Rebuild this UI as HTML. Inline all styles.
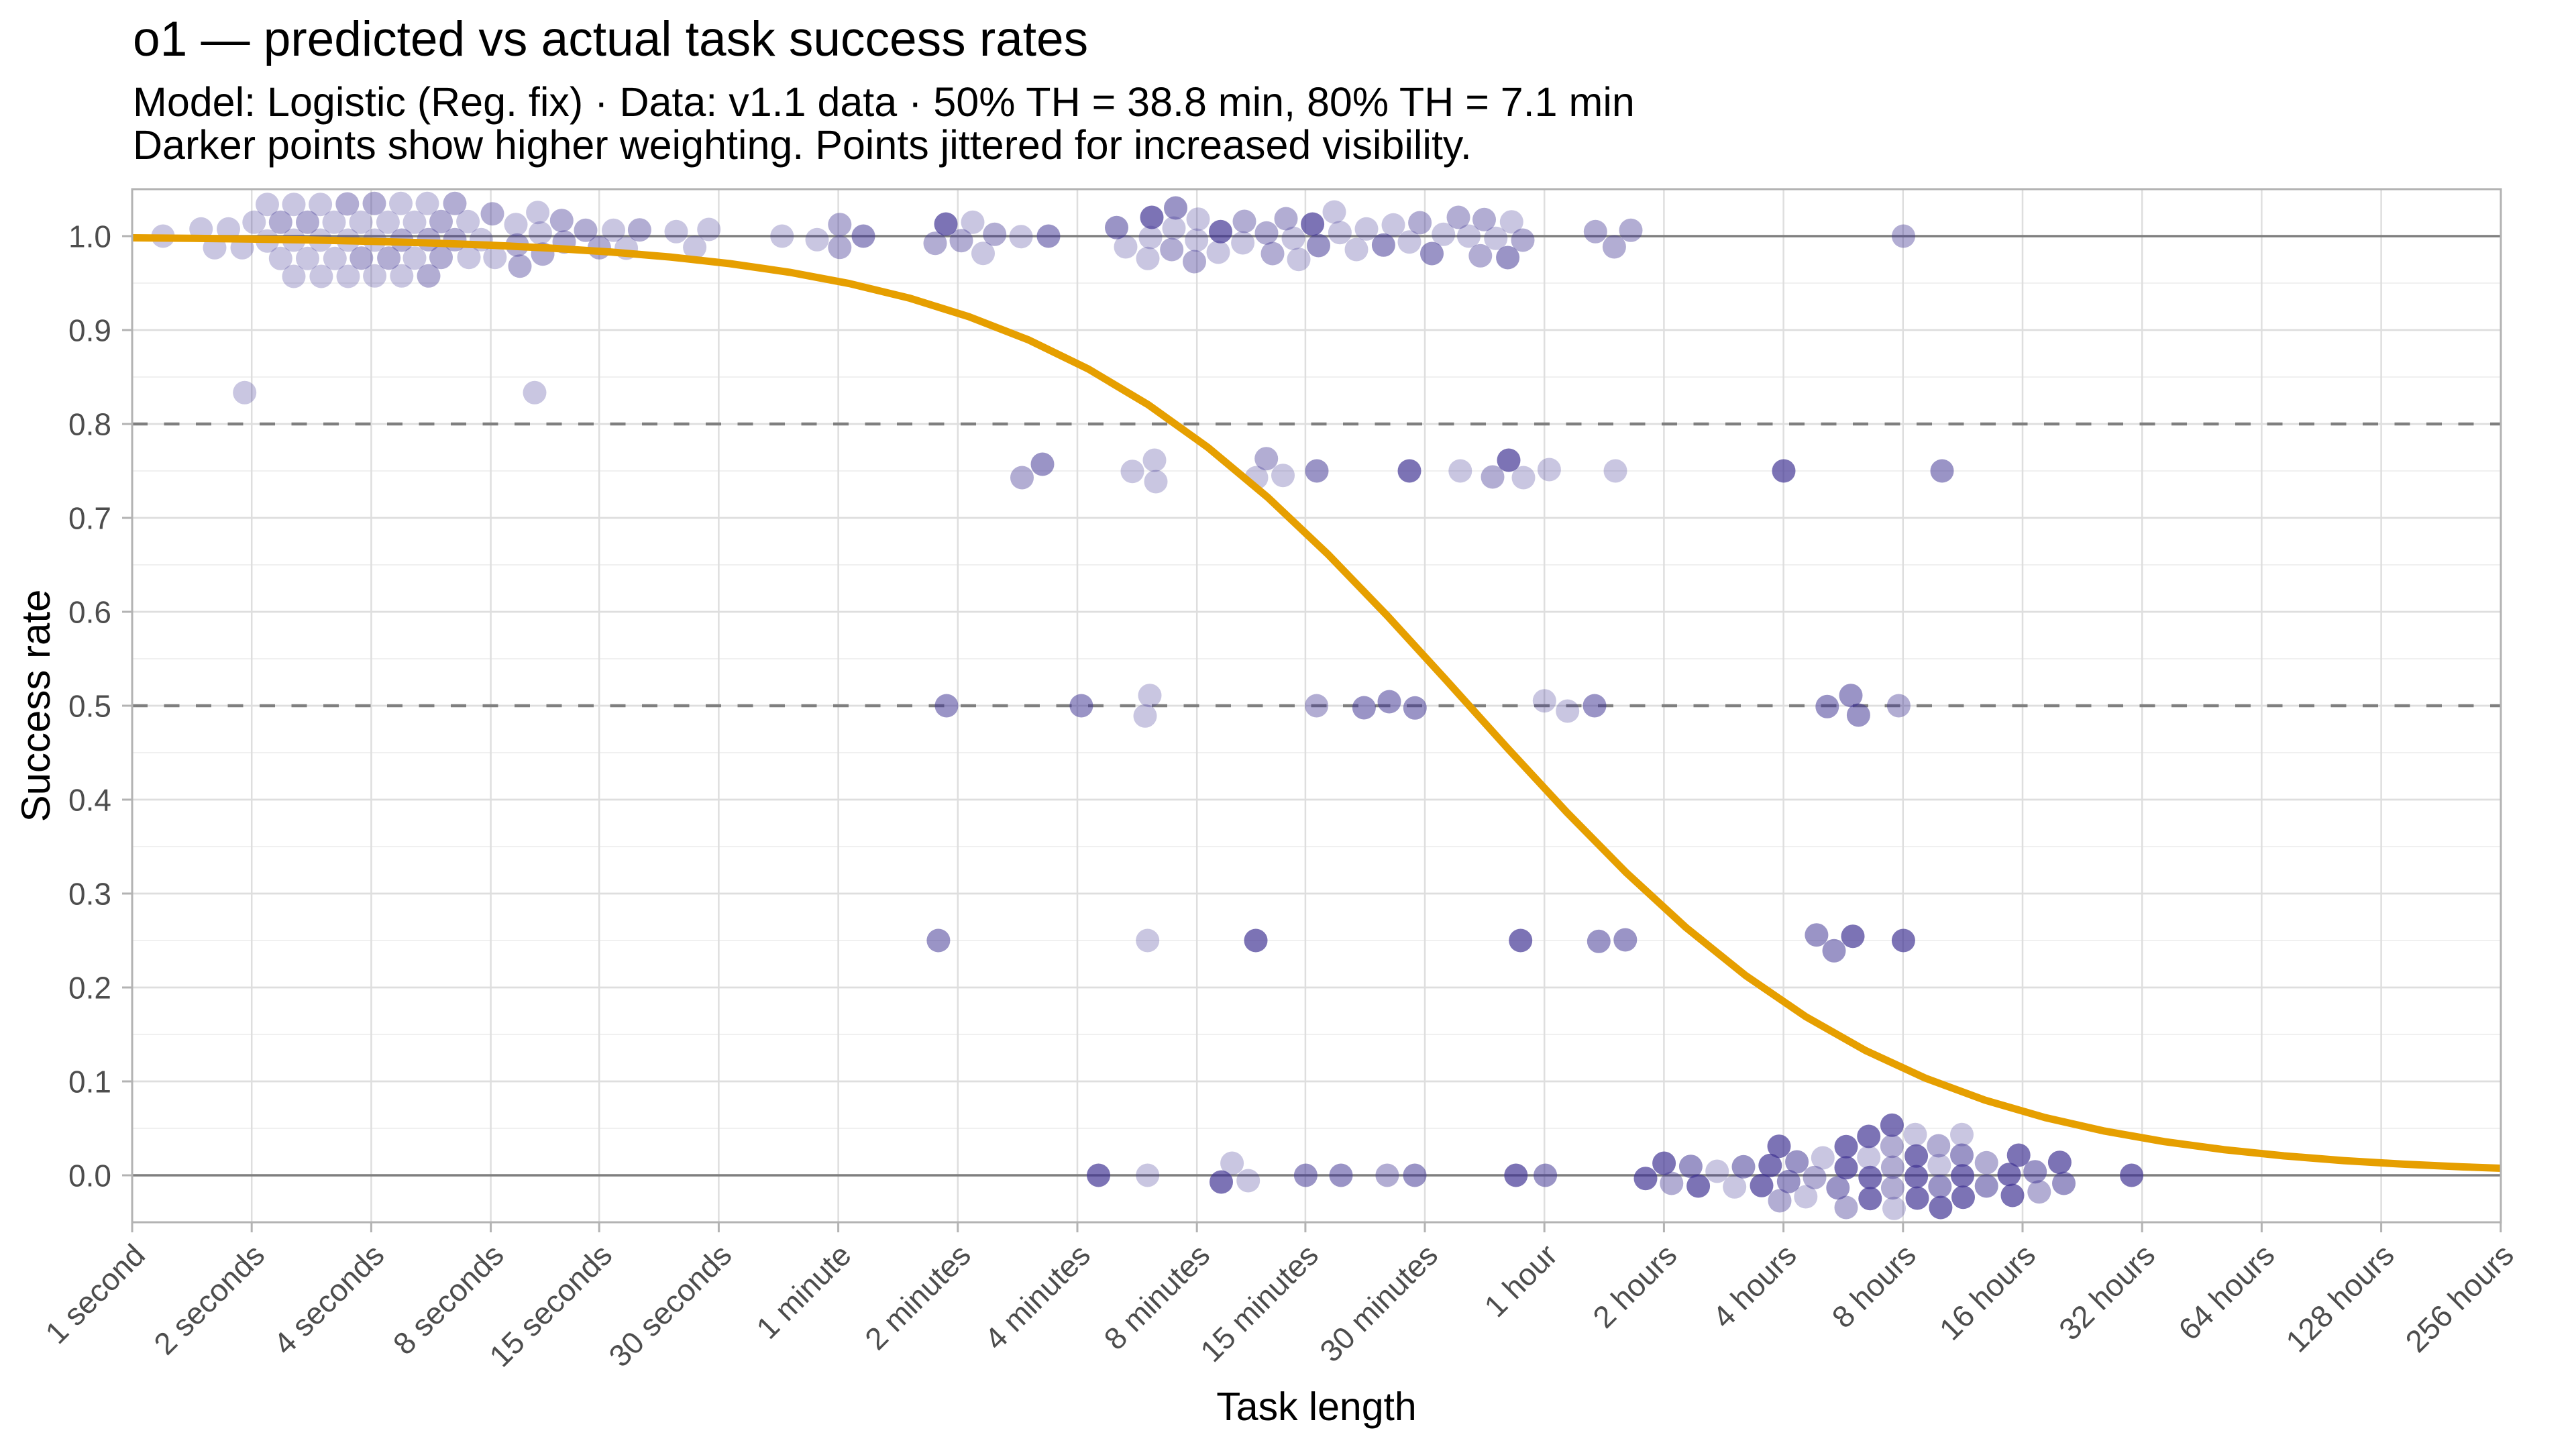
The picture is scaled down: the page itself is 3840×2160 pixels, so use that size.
<!DOCTYPE html>
<html>
<head>
<meta charset="utf-8">
<style>
  html, body { margin: 0; padding: 0; background: #ffffff; }
  body { width: 3840px; height: 2160px; overflow: hidden; }
  svg { display: block; }
  text { font-family: "Liberation Sans", Arial, sans-serif; }
  .tl { font-size: 46px; fill: #4D4D4D; }
  .a { fill: #3E3192; fill-opacity: 0.28; }
  .b { fill: #3E3192; fill-opacity: 0.40; }
  .c { fill: #3E3192; fill-opacity: 0.52; }
  .d { fill: #3E3192; fill-opacity: 0.68; }
</style>
</head>
<body>
<svg width="3840" height="2160" viewBox="0 0 3840 2160" xmlns="http://www.w3.org/2000/svg">
  <rect x="0" y="0" width="3840" height="2160" fill="#ffffff"/>

  <!-- Titles -->
  <text x="198" y="83" font-size="73" fill="#000">o1 — predicted vs actual task success rates</text>
  <text x="198" y="173" font-size="61" fill="#000">Model: Logistic (Reg. fix) · Data: v1.1 data · 50% TH = 38.8 min, 80% TH = 7.1 min</text>
  <text x="198" y="237" font-size="61" fill="#000">Darker points show higher weighting. Points jittered for increased visibility.</text>

  <!-- Minor horizontal gridlines -->
  <g stroke="#EBEBEB" stroke-width="1.4">
    <line x1="197" x2="3728" y1="1682" y2="1682"/>
    <line x1="197" x2="3728" y1="1542" y2="1542"/>
    <line x1="197" x2="3728" y1="1402" y2="1402"/>
    <line x1="197" x2="3728" y1="1262" y2="1262"/>
    <line x1="197" x2="3728" y1="1122" y2="1122"/>
    <line x1="197" x2="3728" y1="982" y2="982"/>
    <line x1="197" x2="3728" y1="842" y2="842"/>
    <line x1="197" x2="3728" y1="702" y2="702"/>
    <line x1="197" x2="3728" y1="562" y2="562"/>
    <line x1="197" x2="3728" y1="422" y2="422"/>
  </g>
  <!-- Major horizontal gridlines -->
  <g stroke="#DEDEDE" stroke-width="2.7">
    <line x1="197" x2="3728" y1="1752" y2="1752"/>
    <line x1="197" x2="3728" y1="1612" y2="1612"/>
    <line x1="197" x2="3728" y1="1472" y2="1472"/>
    <line x1="197" x2="3728" y1="1332" y2="1332"/>
    <line x1="197" x2="3728" y1="1192" y2="1192"/>
    <line x1="197" x2="3728" y1="1052" y2="1052"/>
    <line x1="197" x2="3728" y1="912" y2="912"/>
    <line x1="197" x2="3728" y1="772" y2="772"/>
    <line x1="197" x2="3728" y1="632" y2="632"/>
    <line x1="197" x2="3728" y1="492" y2="492"/>
    <line x1="197" x2="3728" y1="352" y2="352"/>
  </g>
  <!-- Vertical gridlines -->
  <g stroke="#DEDEDE" stroke-width="2.5">
    <line y1="282" y2="1822" x1="375.2" x2="375.2"/>
    <line y1="282" y2="1822" x1="553.4" x2="553.4"/>
    <line y1="282" y2="1822" x1="731.6" x2="731.6"/>
    <line y1="282" y2="1822" x1="893.2" x2="893.2"/>
    <line y1="282" y2="1822" x1="1071.4" x2="1071.4"/>
    <line y1="282" y2="1822" x1="1249.6" x2="1249.6"/>
    <line y1="282" y2="1822" x1="1427.8" x2="1427.8"/>
    <line y1="282" y2="1822" x1="1606" x2="1606"/>
    <line y1="282" y2="1822" x1="1784.2" x2="1784.2"/>
    <line y1="282" y2="1822" x1="1945.9" x2="1945.9"/>
    <line y1="282" y2="1822" x1="2124" x2="2124"/>
    <line y1="282" y2="1822" x1="2302.2" x2="2302.2"/>
    <line y1="282" y2="1822" x1="2480.4" x2="2480.4"/>
    <line y1="282" y2="1822" x1="2658.6" x2="2658.6"/>
    <line y1="282" y2="1822" x1="2836.8" x2="2836.8"/>
    <line y1="282" y2="1822" x1="3015" x2="3015"/>
    <line y1="282" y2="1822" x1="3193.2" x2="3193.2"/>
    <line y1="282" y2="1822" x1="3371.4" x2="3371.4"/>
    <line y1="282" y2="1822" x1="3549.6" x2="3549.6"/>
  </g>

  <!-- Reference lines -->
  <g stroke="#7F7F7F" stroke-width="3.5">
    <line x1="197" x2="3728" y1="352" y2="352"/>
    <line x1="197" x2="3728" y1="1752" y2="1752"/>
  </g>
  <g stroke="#7F7F7F" stroke-width="4.5" stroke-dasharray="23 24.5">
    <line x1="197" x2="3728" y1="632" y2="632"/>
    <line x1="197" x2="3728" y1="1052" y2="1052"/>
  </g>

  <!-- Points -->
  <g>
    <circle class="a" cx="243" cy="352" r="17.5"/>
    <circle class="a" cx="299.7" cy="341.3" r="17.5"/>
    <circle class="a" cx="320" cy="369.3" r="17.5"/>
    <circle class="a" cx="340.5" cy="341.3" r="17.5"/>
    <circle class="a" cx="361" cy="369.3" r="17.5"/>
    <circle class="a" cx="378.8" cy="331.3" r="17.5"/>
    <circle class="a" cx="398.5" cy="304.7" r="17.5"/>
    <circle class="a" cx="398.5" cy="359.3" r="17.5"/>
    <circle class="b" cx="418.3" cy="331.3" r="17.5"/>
    <circle class="a" cx="418.3" cy="385.3" r="17.5"/>
    <circle class="a" cx="438" cy="304.7" r="17.5"/>
    <circle class="a" cx="438" cy="358" r="17.5"/>
    <circle class="a" cx="438" cy="412" r="17.5"/>
    <circle class="b" cx="458.5" cy="331.3" r="17.5"/>
    <circle class="a" cx="458.5" cy="385.3" r="17.5"/>
    <circle class="a" cx="477.6" cy="304.7" r="17.5"/>
    <circle class="a" cx="477.6" cy="358" r="17.5"/>
    <circle class="a" cx="478.9" cy="412" r="17.5"/>
    <circle class="a" cx="498" cy="331.3" r="17.5"/>
    <circle class="a" cx="499.3" cy="385.3" r="17.5"/>
    <circle class="b" cx="517.8" cy="304" r="17.5"/>
    <circle class="a" cx="519" cy="358" r="17.5"/>
    <circle class="a" cx="519" cy="412" r="17.5"/>
    <circle class="a" cx="538" cy="331.3" r="17.5"/>
    <circle class="b" cx="538.8" cy="384.7" r="17.5"/>
    <circle class="b" cx="558" cy="303.3" r="17.5"/>
    <circle class="a" cx="558.6" cy="358" r="17.5"/>
    <circle class="a" cx="558.6" cy="411.3" r="17.5"/>
    <circle class="a" cx="578.4" cy="331.3" r="17.5"/>
    <circle class="b" cx="579.6" cy="384.7" r="17.5"/>
    <circle class="a" cx="597.5" cy="303.3" r="17.5"/>
    <circle class="b" cx="598.8" cy="358" r="17.5"/>
    <circle class="a" cx="598.8" cy="411.3" r="17.5"/>
    <circle class="a" cx="618" cy="331.3" r="17.5"/>
    <circle class="a" cx="618" cy="384.7" r="17.5"/>
    <circle class="a" cx="637" cy="303.3" r="17.5"/>
    <circle class="b" cx="639" cy="357.3" r="17.5"/>
    <circle class="b" cx="639" cy="411.3" r="17.5"/>
    <circle class="b" cx="657.5" cy="330.3" r="17.5"/>
    <circle class="b" cx="657.5" cy="383.7" r="17.5"/>
    <circle class="b" cx="678" cy="303.3" r="17.5"/>
    <circle class="b" cx="678" cy="357.3" r="17.5"/>
    <circle class="a" cx="697.6" cy="330.3" r="17.5"/>
    <circle class="a" cx="699" cy="383.7" r="17.5"/>
    <circle class="a" cx="717.4" cy="357.3" r="17.5"/>
    <circle class="b" cx="734" cy="318.7" r="17.5"/>
    <circle class="a" cx="737.8" cy="383.7" r="17.5"/>
    <circle class="a" cx="769" cy="334.7" r="17.5"/>
    <circle class="b" cx="771" cy="365.3" r="17.5"/>
    <circle class="b" cx="775" cy="396.7" r="17.5"/>
    <circle class="a" cx="801.6" cy="316.7" r="17.5"/>
    <circle class="a" cx="805.4" cy="347.3" r="17.5"/>
    <circle class="b" cx="809" cy="378.7" r="17.5"/>
    <circle class="b" cx="837.3" cy="328.7" r="17.5"/>
    <circle class="b" cx="841" cy="360.7" r="17.5"/>
    <circle class="b" cx="873" cy="343.3" r="17.5"/>
    <circle class="b" cx="893.4" cy="369.3" r="17.5"/>
    <circle class="a" cx="914.5" cy="343.3" r="17.5"/>
    <circle class="a" cx="933.6" cy="370" r="17.5"/>
    <circle class="b" cx="953.4" cy="342.7" r="17.5"/>
    <circle class="a" cx="1008" cy="345.3" r="17.5"/>
    <circle class="a" cx="1035.6" cy="368.7" r="17.5"/>
    <circle class="a" cx="1056.7" cy="342" r="17.5"/>
    <circle class="a" cx="1165.8" cy="352" r="17.5"/>
    <circle class="a" cx="364.7" cy="585.3" r="17.5"/>
    <circle class="a" cx="797" cy="585.3" r="17.5"/>

    <circle class="a" cx="1218" cy="357.3" r="17.5"/>
    <circle class="b" cx="1251.8" cy="334.7" r="17.5"/>
    <circle class="b" cx="1251.8" cy="368.7" r="17.5"/>
    <circle class="c" cx="1287" cy="352" r="17.5"/>
    <circle class="b" cx="1394" cy="362.7" r="17.5"/>
    <circle class="d" cx="1410" cy="334" r="17.5"/>
    <circle class="b" cx="1433" cy="358.7" r="17.5"/>
    <circle class="a" cx="1450" cy="331.3" r="17.5"/>
    <circle class="a" cx="1465.5" cy="377.7" r="17.5"/>
    <circle class="b" cx="1482.7" cy="349.3" r="17.5"/>
    <circle class="a" cx="1522" cy="352.7" r="17.5"/>
    <circle class="c" cx="1563" cy="352" r="17.5"/>
    <circle class="c" cx="1664.5" cy="339.3" r="17.5"/>
    <circle class="a" cx="1678" cy="368" r="17.5"/>
    <circle class="a" cx="1711" cy="385.3" r="17.5"/>
    <circle class="a" cx="1715" cy="354" r="17.5"/>
    <circle class="d" cx="1717" cy="324" r="17.5"/>
    <circle class="b" cx="1746.7" cy="372" r="17.5"/>
    <circle class="a" cx="1750" cy="340" r="17.5"/>
    <circle class="c" cx="1752.5" cy="310" r="17.5"/>
    <circle class="b" cx="1780.5" cy="390" r="17.5"/>
    <circle class="a" cx="1783.7" cy="358" r="17.5"/>
    <circle class="a" cx="1786" cy="326.7" r="17.5"/>
    <circle class="a" cx="1816" cy="376" r="17.5"/>
    <circle class="d" cx="1819.5" cy="345.3" r="17.5"/>
    <circle class="a" cx="1852.6" cy="362" r="17.5"/>
    <circle class="b" cx="1855" cy="330" r="17.5"/>
    <circle class="b" cx="1888" cy="347.3" r="17.5"/>
    <circle class="b" cx="1897" cy="378" r="17.5"/>
    <circle class="b" cx="1917" cy="326" r="17.5"/>
    <circle class="a" cx="1928" cy="355.3" r="17.5"/>
    <circle class="a" cx="1936" cy="386.7" r="17.5"/>
    <circle class="d" cx="1956.6" cy="334" r="17.5"/>
    <circle class="c" cx="1965.5" cy="366" r="17.5"/>
    <circle class="a" cx="1989" cy="316" r="17.5"/>
    <circle class="a" cx="1997.4" cy="346.7" r="17.5"/>
    <circle class="a" cx="2022" cy="372" r="17.5"/>
    <circle class="a" cx="2037" cy="341.3" r="17.5"/>
    <circle class="c" cx="2062.4" cy="365.3" r="17.5"/>
    <circle class="a" cx="2077" cy="335.3" r="17.5"/>
    <circle class="a" cx="2101" cy="360.7" r="17.5"/>
    <circle class="b" cx="2116.6" cy="332" r="17.5"/>
    <circle class="c" cx="2134.5" cy="378" r="17.5"/>
    <circle class="a" cx="2151.7" cy="349.3" r="17.5"/>
    <circle class="b" cx="2174" cy="324" r="17.5"/>
    <circle class="a" cx="2189.5" cy="352" r="17.5"/>
    <circle class="b" cx="2212.5" cy="327.3" r="17.5"/>
    <circle class="a" cx="2229.7" cy="355.3" r="17.5"/>
    <circle class="b" cx="2206.8" cy="381.3" r="17.5"/>
    <circle class="a" cx="2253.3" cy="330.7" r="17.5"/>
    <circle class="b" cx="2270" cy="358" r="17.5"/>
    <circle class="c" cx="2247.6" cy="384" r="17.5"/>
    <circle class="b" cx="2378.3" cy="345.3" r="17.5"/>
    <circle class="b" cx="2406.4" cy="368" r="17.5"/>
    <circle class="b" cx="2431" cy="343.3" r="17.5"/>
    <circle class="b" cx="2837.5" cy="352" r="17.5"/>

    <circle class="b" cx="1523.5" cy="712" r="17.5"/>
    <circle class="c" cx="1554" cy="692" r="17.5"/>
    <circle class="a" cx="1688" cy="702.7" r="17.5"/>
    <circle class="a" cx="1721" cy="686" r="17.5"/>
    <circle class="a" cx="1723" cy="718" r="17.5"/>
    <circle class="a" cx="1873" cy="712" r="17.5"/>
    <circle class="b" cx="1887.7" cy="683.7" r="17.5"/>
    <circle class="a" cx="1912.5" cy="708.7" r="17.5"/>
    <circle class="c" cx="1963" cy="702" r="17.5"/>
    <circle class="d" cx="2101" cy="702" r="17.5"/>
    <circle class="a" cx="2176.8" cy="702" r="17.5"/>
    <circle class="b" cx="2225" cy="711" r="17.5"/>
    <circle class="d" cx="2249" cy="686" r="17.5"/>
    <circle class="a" cx="2271" cy="712" r="17.5"/>
    <circle class="a" cx="2309.4" cy="700" r="17.5"/>
    <circle class="a" cx="2408" cy="702" r="17.5"/>
    <circle class="d" cx="2659" cy="702" r="17.5"/>
    <circle class="c" cx="2895" cy="702" r="17.5"/>

    <circle class="c" cx="1411" cy="1052" r="17.5"/>
    <circle class="c" cx="1611.9" cy="1052" r="17.5"/>
    <circle class="a" cx="1714" cy="1036.7" r="17.5"/>
    <circle class="a" cx="1707" cy="1067.3" r="17.5"/>
    <circle class="b" cx="1962.6" cy="1052" r="17.5"/>
    <circle class="c" cx="2033.4" cy="1055" r="17.5"/>
    <circle class="c" cx="2071" cy="1046" r="17.5"/>
    <circle class="c" cx="2109.3" cy="1055.3" r="17.5"/>
    <circle class="a" cx="2302.3" cy="1044.7" r="17.5"/>
    <circle class="a" cx="2336.7" cy="1060" r="17.5"/>
    <circle class="c" cx="2377" cy="1052" r="17.5"/>
    <circle class="c" cx="2723.8" cy="1053.3" r="17.5"/>
    <circle class="c" cx="2759" cy="1036.7" r="17.5"/>
    <circle class="c" cx="2770.4" cy="1066" r="17.5"/>
    <circle class="b" cx="2830.4" cy="1052" r="17.5"/>

    <circle class="c" cx="1398.9" cy="1402" r="17.5"/>
    <circle class="a" cx="1710.7" cy="1402" r="17.5"/>
    <circle class="d" cx="1872" cy="1402" r="17.5"/>
    <circle class="d" cx="2266.7" cy="1402" r="17.5"/>
    <circle class="c" cx="2383.3" cy="1403.3" r="17.5"/>
    <circle class="c" cx="2422.8" cy="1401" r="17.5"/>
    <circle class="c" cx="2707.9" cy="1393.7" r="17.5"/>
    <circle class="c" cx="2734" cy="1417.3" r="17.5"/>
    <circle class="d" cx="2762" cy="1395.7" r="17.5"/>
    <circle class="d" cx="2837.4" cy="1402" r="17.5"/>

    <circle class="d" cx="1637.5" cy="1752" r="17.5"/>
    <circle class="a" cx="1710.7" cy="1752" r="17.5"/>
    <circle class="a" cx="1836.6" cy="1734" r="17.5"/>
    <circle class="d" cx="1820.5" cy="1762" r="17.5"/>
    <circle class="a" cx="1860.7" cy="1760" r="17.5"/>
    <circle class="c" cx="1946.4" cy="1752" r="17.5"/>
    <circle class="c" cx="1999" cy="1752" r="17.5"/>
    <circle class="b" cx="2067.9" cy="1752" r="17.5"/>
    <circle class="c" cx="2109" cy="1752" r="17.5"/>
    <circle class="d" cx="2259.8" cy="1752" r="17.5"/>
    <circle class="c" cx="2303.6" cy="1752" r="17.5"/>
    <circle class="d" cx="2453" cy="1756.7" r="17.5"/>
    <circle class="d" cx="2480.6" cy="1734" r="17.5"/>
    <circle class="b" cx="2491.8" cy="1764" r="17.5"/>
    <circle class="c" cx="2520.4" cy="1738.7" r="17.5"/>
    <circle class="d" cx="2531.6" cy="1768" r="17.5"/>
    <circle class="a" cx="2559.7" cy="1746" r="17.5"/>
    <circle class="a" cx="2585.7" cy="1769.3" r="17.5"/>
    <circle class="c" cx="2599" cy="1739.3" r="17.5"/>
    <circle class="d" cx="2626" cy="1767.3" r="17.5"/>
    <circle class="d" cx="2638.8" cy="1737.3" r="17.5"/>
    <circle class="d" cx="2652" cy="1708.7" r="17.5"/>
    <circle class="b" cx="2653" cy="1790" r="17.5"/>
    <circle class="c" cx="2666.3" cy="1761.3" r="17.5"/>
    <circle class="c" cx="2678.6" cy="1732" r="17.5"/>
    <circle class="a" cx="2691.8" cy="1784" r="17.5"/>
    <circle class="b" cx="2705" cy="1755.3" r="17.5"/>
    <circle class="a" cx="2717.3" cy="1726" r="17.5"/>
    <circle class="c" cx="2739.8" cy="1770.7" r="17.5"/>
    <circle class="d" cx="2752" cy="1709.3" r="17.5"/>
    <circle class="d" cx="2752" cy="1740.7" r="17.5"/>
    <circle class="b" cx="2752" cy="1800" r="17.5"/>
    <circle class="d" cx="2785.7" cy="1694" r="17.5"/>
    <circle class="a" cx="2785.7" cy="1725.3" r="17.5"/>
    <circle class="d" cx="2787.8" cy="1755.3" r="17.5"/>
    <circle class="d" cx="2787.8" cy="1786.7" r="17.5"/>
    <circle class="d" cx="2820.4" cy="1677.3" r="17.5"/>
    <circle class="b" cx="2820.4" cy="1708.7" r="17.5"/>
    <circle class="b" cx="2821.4" cy="1740" r="17.5"/>
    <circle class="b" cx="2821.4" cy="1770.7" r="17.5"/>
    <circle class="a" cx="2823.5" cy="1801.3" r="17.5"/>
    <circle class="a" cx="2855" cy="1691.3" r="17.5"/>
    <circle class="d" cx="2856.6" cy="1723.3" r="17.5"/>
    <circle class="d" cx="2856.6" cy="1754" r="17.5"/>
    <circle class="d" cx="2858" cy="1786" r="17.5"/>
    <circle class="b" cx="2889.8" cy="1708" r="17.5"/>
    <circle class="a" cx="2890.8" cy="1737.3" r="17.5"/>
    <circle class="c" cx="2891.8" cy="1768.7" r="17.5"/>
    <circle class="d" cx="2892.9" cy="1800" r="17.5"/>
    <circle class="a" cx="2924.5" cy="1691.3" r="17.5"/>
    <circle class="c" cx="2924.5" cy="1722" r="17.5"/>
    <circle class="d" cx="2925.5" cy="1752.7" r="17.5"/>
    <circle class="d" cx="2926.5" cy="1784.7" r="17.5"/>
    <circle class="b" cx="2961.2" cy="1733.3" r="17.5"/>
    <circle class="c" cx="2961.2" cy="1768" r="17.5"/>
    <circle class="d" cx="2995" cy="1750.7" r="17.5"/>
    <circle class="d" cx="3009.2" cy="1722" r="17.5"/>
    <circle class="d" cx="3000" cy="1782" r="17.5"/>
    <circle class="c" cx="3033.7" cy="1746.7" r="17.5"/>
    <circle class="b" cx="3039.8" cy="1776.7" r="17.5"/>
    <circle class="d" cx="3070.4" cy="1732.7" r="17.5"/>
    <circle class="c" cx="3076.5" cy="1764" r="17.5"/>
    <circle class="d" cx="3177.6" cy="1752" r="17.5"/>
  </g>

  <!-- Logistic curve -->
  <polyline fill="none" stroke="#E69F00" stroke-width="11" stroke-linejoin="round"
    points="197,354.5 286.1,355.3 375.2,356.4 464.3,357.8 553.4,359.7 642.5,362.2 731.6,365.5 820.7,369.9 909.8,375.6 998.9,383.1 1088,393.0 1177.1,405.9 1266.2,422.7 1355.3,444.3 1444.4,472.1 1533.5,506.8 1622.6,550.2 1711.7,603.4 1800.8,667.1 1889.9,741.5 1979,825.7 2068.1,918.0 2157.2,1015.4 2246.3,1114.3 2335.4,1210.6 2424.5,1301.1 2513.6,1382.9 2602.7,1454.6 2691.8,1515.5 2780.9,1566.0 2870,1607.1 2959.1,1640.0 3048.2,1665.9 3137.3,1686.1 3226.4,1701.8 3315.5,1713.8 3404.6,1723.0 3493.7,1730.1 3582.8,1735.4 3671.9,1739.5 3728,1741.5"/>

  <!-- Panel border -->
  <rect x="197" y="282" width="3531" height="1540" fill="none" stroke="#B3B3B3" stroke-width="3"/>

  <!-- Y ticks -->
  <g stroke="#B3B3B3" stroke-width="3">
    <line x1="182" x2="197" y1="1752" y2="1752"/>
    <line x1="182" x2="197" y1="1612" y2="1612"/>
    <line x1="182" x2="197" y1="1472" y2="1472"/>
    <line x1="182" x2="197" y1="1332" y2="1332"/>
    <line x1="182" x2="197" y1="1192" y2="1192"/>
    <line x1="182" x2="197" y1="1052" y2="1052"/>
    <line x1="182" x2="197" y1="912" y2="912"/>
    <line x1="182" x2="197" y1="772" y2="772"/>
    <line x1="182" x2="197" y1="632" y2="632"/>
    <line x1="182" x2="197" y1="492" y2="492"/>
    <line x1="182" x2="197" y1="352" y2="352"/>
  </g>
  <g class="tl" text-anchor="end">
    <text x="166" y="1768.5">0.0</text>
    <text x="166" y="1628.5">0.1</text>
    <text x="166" y="1488.5">0.2</text>
    <text x="166" y="1348.5">0.3</text>
    <text x="166" y="1208.5">0.4</text>
    <text x="166" y="1068.5">0.5</text>
    <text x="166" y="928.5">0.6</text>
    <text x="166" y="788.5">0.7</text>
    <text x="166" y="648.5">0.8</text>
    <text x="166" y="508.5">0.9</text>
    <text x="166" y="368.5">1.0</text>
  </g>

  <!-- X ticks -->
  <g stroke="#B3B3B3" stroke-width="3">
    <line y1="1822" y2="1837" x1="197" x2="197"/>
    <line y1="1822" y2="1837" x1="375.2" x2="375.2"/>
    <line y1="1822" y2="1837" x1="553.4" x2="553.4"/>
    <line y1="1822" y2="1837" x1="731.6" x2="731.6"/>
    <line y1="1822" y2="1837" x1="893.2" x2="893.2"/>
    <line y1="1822" y2="1837" x1="1071.4" x2="1071.4"/>
    <line y1="1822" y2="1837" x1="1249.6" x2="1249.6"/>
    <line y1="1822" y2="1837" x1="1427.8" x2="1427.8"/>
    <line y1="1822" y2="1837" x1="1606" x2="1606"/>
    <line y1="1822" y2="1837" x1="1784.2" x2="1784.2"/>
    <line y1="1822" y2="1837" x1="1945.9" x2="1945.9"/>
    <line y1="1822" y2="1837" x1="2124" x2="2124"/>
    <line y1="1822" y2="1837" x1="2302.2" x2="2302.2"/>
    <line y1="1822" y2="1837" x1="2480.4" x2="2480.4"/>
    <line y1="1822" y2="1837" x1="2658.6" x2="2658.6"/>
    <line y1="1822" y2="1837" x1="2836.8" x2="2836.8"/>
    <line y1="1822" y2="1837" x1="3015" x2="3015"/>
    <line y1="1822" y2="1837" x1="3193.2" x2="3193.2"/>
    <line y1="1822" y2="1837" x1="3371.4" x2="3371.4"/>
    <line y1="1822" y2="1837" x1="3549.6" x2="3549.6"/>
    <line y1="1822" y2="1837" x1="3727.8" x2="3727.8"/>
  </g>
  <g class="tl" text-anchor="end">
    <text transform="translate(219,1874) rotate(-45)">1 second</text>
    <text transform="translate(397.2,1874) rotate(-45)">2 seconds</text>
    <text transform="translate(575.4,1874) rotate(-45)">4 seconds</text>
    <text transform="translate(753.6,1874) rotate(-45)">8 seconds</text>
    <text transform="translate(915.2,1874) rotate(-45)">15 seconds</text>
    <text transform="translate(1093.4,1874) rotate(-45)">30 seconds</text>
    <text transform="translate(1271.6,1874) rotate(-45)">1 minute</text>
    <text transform="translate(1449.8,1874) rotate(-45)">2 minutes</text>
    <text transform="translate(1628,1874) rotate(-45)">4 minutes</text>
    <text transform="translate(1806.2,1874) rotate(-45)">8 minutes</text>
    <text transform="translate(1967.9,1874) rotate(-45)">15 minutes</text>
    <text transform="translate(2146,1874) rotate(-45)">30 minutes</text>
    <text transform="translate(2324.2,1874) rotate(-45)">1 hour</text>
    <text transform="translate(2502.4,1874) rotate(-45)">2 hours</text>
    <text transform="translate(2680.6,1874) rotate(-45)">4 hours</text>
    <text transform="translate(2858.8,1874) rotate(-45)">8 hours</text>
    <text transform="translate(3037,1874) rotate(-45)">16 hours</text>
    <text transform="translate(3215.2,1874) rotate(-45)">32 hours</text>
    <text transform="translate(3393.4,1874) rotate(-45)">64 hours</text>
    <text transform="translate(3571.6,1874) rotate(-45)">128 hours</text>
    <text transform="translate(3749.8,1874) rotate(-45)">256 hours</text>
  </g>

  <!-- Axis titles -->
  <text x="1962.5" y="2117" font-size="59" fill="#000" text-anchor="middle">Task length</text>
  <text transform="translate(74,1052) rotate(-90)" font-size="60" fill="#000" text-anchor="middle">Success rate</text>
</svg>
</body>
</html>
